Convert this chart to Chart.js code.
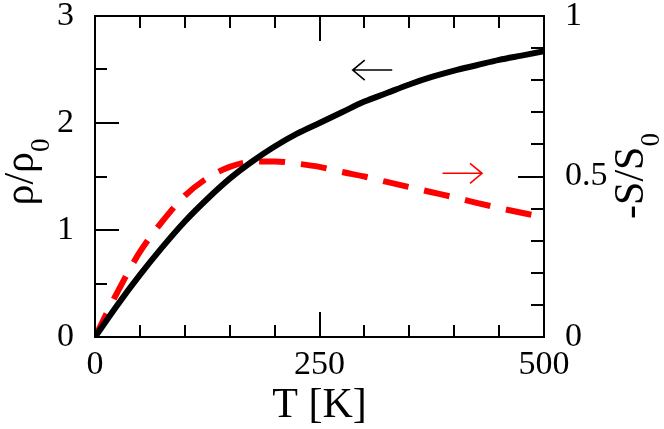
<!DOCTYPE html>
<html>
<head>
<meta charset="utf-8">
<script src="https://cdn.jsdelivr.net/npm/chart.js@4.4.1/dist/chart.umd.min.js"></script>
<style>
  html, body { margin: 0; padding: 0; background: #fff; }
  #wrap { width: 664px; height: 429px; position: relative; }
</style>
</head>
<body>
<div id="wrap"><canvas id="rhoChart"></canvas></div>
<script>
// Values
const temperature = [0, 25, 50, 75, 100, 125, 150, 175, 200, 225, 250,
                     275, 300, 325, 350, 375, 400, 425, 450, 475, 500];
const resistivity = [0, 0.30, 0.58, 0.84, 1.08, 1.29, 1.48, 1.64, 1.78, 1.90, 2.00,
                     2.10, 2.20, 2.28, 2.36, 2.43, 2.49, 2.54, 2.59, 2.63, 2.67];
const entropy = [0, 0.14, 0.265, 0.36, 0.44, 0.495, 0.53, 0.546, 0.547, 0.54, 0.53,
                 0.514, 0.50, 0.483, 0.467, 0.451, 0.435, 0.418, 0.402, 0.387, 0.373];

const xTicks = [0, 250, 500];
const yTicks = [0, 1, 2, 3];
const y2Ticks = [0, 0.5, 1];

const FONT = "'Liberation Serif', 'Times New Roman', serif";

document.addEventListener('DOMContentLoaded', function () {

    // inward ticks, frame, axis titles and the two arrows
    const decorPlugin = {
        id: 'decor',
        afterDraw(chart) {
            const c = chart.ctx;
            const a = chart.chartArea;
            const xs = chart.scales.x, ys = chart.scales.y, ys2 = chart.scales.y2;
            c.save();
            c.strokeStyle = '#000';
            c.lineWidth = 2;
            c.lineCap = 'butt';

            c.beginPath();
            // x ticks, bottom and top
            for (let v = 0; v <= 500; v += 50) {
                const px = Math.round(xs.getPixelForValue(v));
                const len = (v % 250 === 0) ? 25 : 12;
                c.moveTo(px, a.bottom); c.lineTo(px, a.bottom - len);
                c.moveTo(px, a.top); c.lineTo(px, a.top + len);
            }
            // left ticks
            for (let v = 0; v <= 3; v += 0.5) {
                const py = Math.round(ys.getPixelForValue(v));
                const len = (v % 1 === 0) ? 24 : 12;
                c.moveTo(a.left, py); c.lineTo(a.left + len, py);
            }
            // right ticks
            for (let i = 0; i <= 10; i++) {
                const py = Math.round(ys2.getPixelForValue(i / 10));
                const len = (i % 5 === 0) ? 26 : 13;
                c.moveTo(a.right, py); c.lineTo(a.right - len, py);
            }
            c.stroke();
            c.strokeRect(a.left, a.top, a.right - a.left, a.bottom - a.top);

            // arrows
            function arrow(x1, x2, py, color, left) {
                c.strokeStyle = color;
                c.lineWidth = 1.6;
                c.beginPath();
                c.moveTo(x1, py); c.lineTo(x2, py);
                const tip = left ? x1 : x2;
                const back = left ? tip + 12 : tip - 12;
                c.moveTo(back, py - 10); c.lineTo(tip, py); c.lineTo(back, py + 10);
                c.stroke();
            }
            arrow(xs.getPixelForValue(287), xs.getPixelForValue(331), ys.getPixelForValue(2.495), '#000', true);
            arrow(xs.getPixelForValue(387), xs.getPixelForValue(431), ys2.getPixelForValue(0.51), '#ff0000', false);

            // axis titles
            c.fillStyle = '#000';
            c.textBaseline = 'alphabetic';
            c.font = '42px ' + FONT;
            c.textAlign = 'center';
            c.fillText('T [K]', (a.left + a.right) / 2, 417);

            function vertTitle(main, sub, bx, cy) {
                c.save();
                c.textAlign = 'left';
                c.font = '42px ' + FONT;
                const w1 = c.measureText(main).width;
                c.font = '27px ' + FONT;
                const w2 = c.measureText(sub).width;
                c.translate(bx, cy);
                c.rotate(-Math.PI / 2);
                const x0 = -(w1 + w2) / 2;
                c.font = '42px ' + FONT;
                c.fillText(main, x0, 0);
                c.font = '27px ' + FONT;
                c.fillText(sub, x0 + w1, 16);
                c.restore();
            }
            vertTitle('ρ/ρ', '0', 33, 172);
            vertTitle('-S/S', '0', 643, 176);
            c.restore();
        }
    };

    // fixed axis sizes so the plot frame sits where it does in the reference
    function fixSize(prop, size) {
        return function (axis) {
            axis[prop] = size;
            axis.paddingTop = 0;
            axis.paddingBottom = 0;
            axis.paddingLeft = 0;
            axis.paddingRight = 0;
        };
    }

    const ctx = document.getElementById('rhoChart').getContext('2d');
    const chart = new Chart(ctx, {
        type: 'line',
        data: {
            datasets: [{
                label: 'rho',
                data: temperature.map((t, i) => ({ x: t, y: resistivity[i] })),
                yAxisID: 'y',
                borderColor: '#000',
                borderWidth: 6,
                pointRadius: 0,
                fill: false,
                cubicInterpolationMode: 'monotone'
            }, {
                label: 'S',
                data: temperature.map((t, i) => ({ x: t, y: entropy[i] })),
                yAxisID: 'y2',
                borderColor: '#ff0000',
                borderWidth: 6,
                borderDash: [26, 16],
                pointRadius: 0,
                fill: false,
                cubicInterpolationMode: 'monotone'
            }]
        },
        options: {
            responsive: true,
            maintainAspectRatio: false,
            animation: false,
            layout: { padding: { top: 16, left: 0, right: 0, bottom: 0 } },
            plugins: {
                legend: { display: false },
                tooltip: { enabled: false }
            },
            scales: {
                x: {
                    type: 'linear',
                    min: 0, max: 500,
                    afterBuildTicks: axis => { axis.ticks = xTicks.map(v => ({ value: v })); },
                    afterFit: fixSize('height', 92),
                    grid: { display: false },
                    border: { display: false },
                    ticks: {
                        padding: 0,
                        maxRotation: 0,
                        color: '#000',
                        font: { family: FONT, size: 34 },
                        callback: v => String(v)
                    }
                },
                y: {
                    position: 'left',
                    min: 0, max: 3,
                    afterBuildTicks: axis => { axis.ticks = yTicks.map(v => ({ value: v })); },
                    afterFit: fixSize('width', 95),
                    grid: { display: false },
                    border: { display: false },
                    ticks: {
                        padding: 13,
                        color: '#000',
                        font: { family: FONT, size: 34 },
                        callback: v => String(v)
                    }
                },
                y2: {
                    position: 'right',
                    min: 0, max: 1,
                    afterBuildTicks: axis => { axis.ticks = y2Ticks.map(v => ({ value: v })); },
                    afterFit: fixSize('width', 120),
                    grid: { display: false },
                    border: { display: false },
                    ticks: {
                        padding: 13,
                        color: '#000',
                        font: { family: FONT, size: 34 },
                        callback: v => String(v)
                    }
                }
            }
        },
        plugins: [decorPlugin]
    });

});
</script>
</body>
</html>
